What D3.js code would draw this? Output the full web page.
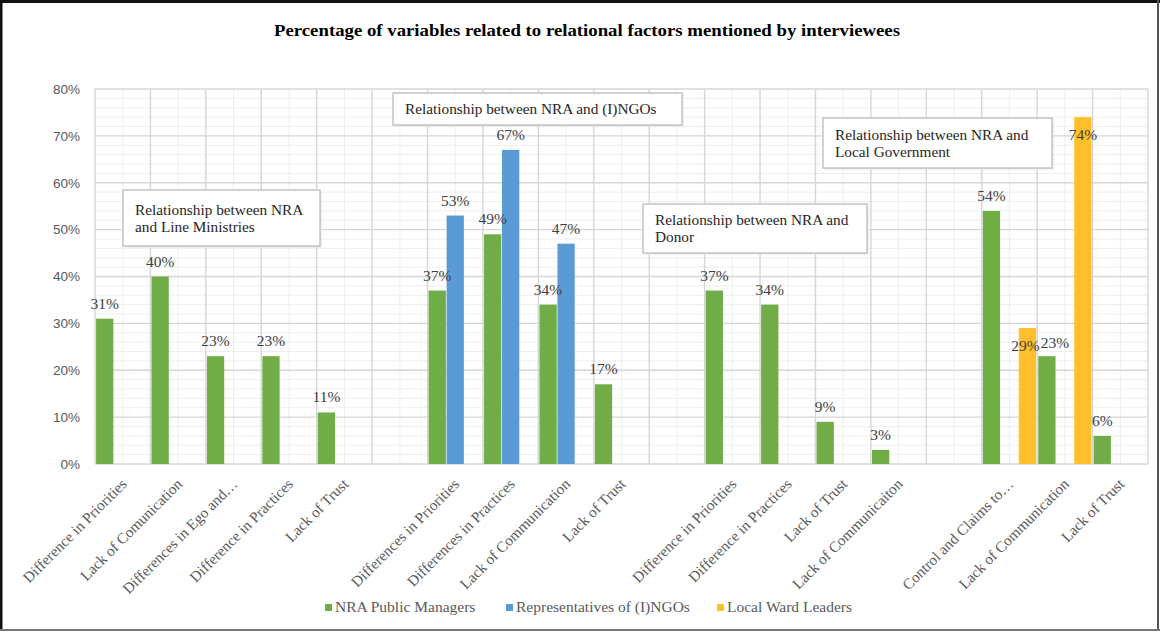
<!DOCTYPE html>
<html>
<head>
<meta charset="utf-8">
<script src="https://cdn.jsdelivr.net/npm/d3@7"></script>
<style>
  body { margin: 0; background: #fff; }
  svg { display: block; }
</style>
</head>
<body>
<script>
// categories along the x axis ("" = empty slot between the groups)
const categories = [
  "Difference in Priorities", "Lack of Comunication", "Differences in Ego and\u2026", "Difference in Practices", "Lack of Trust", "",
  "Differences in Priorities", "Differences in Practices", "Lack of Communication", "Lack of Trust", "",
  "Difference in Priorities", "Difference in Practices", "Lack of Trust", "Lack of Communicaiton", "",
  "Control and Claims to\u2026", "Lack of Communication", "Lack of Trust"
];

const seriesNames = ["NRA Public Managers", "Representatives of (I)NGOs", "Local Ward Leaders"];

const nraManagers = [31, 40, 23, 23, 11, null, 37, 49, 34, 17, null, 37, 34, 9, 3, null, 54, 23, 6];
const ngoReps     = [null, null, null, null, null, null, 53, 67, 47, null, null, null, null, null, null, null, null, null, null];
const wardLeaders = [null, null, null, null, null, null, null, null, null, null, null, null, null, null, null, null, 29, 74, null];

const yTicks = [0, 10, 20, 30, 40, 50, 60, 70, 80];

const groupNotes = [
  ["Relationship between NRA", "and Line Ministries"],
  ["Relationship between NRA and (I)NGOs"],
  ["Relationship between NRA and", "Donor"],
  ["Relationship between NRA and", "Local Government"]
];

const titleText = "Percentage of variables related to relational factors mentioned by interviewees";

// ---- layout ----
const W = 1160, H = 632;
const plot = { left: 95, right: 1148, top: 89, bottom: 464 };
const colors = ["#70AD47", "#5B9BD5", "#FFC02B"];
const serif = "'Liberation Serif', 'Times New Roman', serif";

const svg = d3.select("body").append("svg")
  .attr("width", W)
  .attr("height", H);

svg.append("rect").attr("width", W).attr("height", H).attr("fill", "#fff");

const x = d3.scaleBand()
  .domain(d3.range(categories.length))
  .range([plot.left, plot.right])
  .padding(0);

const xSub = d3.scaleBand()
  .domain([0, 1, 2])
  .range([0, x.bandwidth()])
  .paddingInner(0.04)
  .paddingOuter(0.06);

const y = d3.scaleLinear().domain([0, 80]).range([plot.bottom, plot.top]);

// minor grid
const grid = svg.append("g");
grid.selectAll(".hminor")
  .data(d3.range(0, 81, 2).filter(v => v % 10 !== 0))
  .enter().append("line")
  .attr("x1", plot.left).attr("x2", plot.right)
  .attr("y1", d => y(d)).attr("y2", d => y(d))
  .attr("stroke", "#eeeeee").attr("stroke-width", 1);

grid.selectAll(".vminor")
  .data(d3.range(categories.length))
  .enter().append("line")
  .attr("x1", d => x(d) + x.bandwidth() / 2).attr("x2", d => x(d) + x.bandwidth() / 2)
  .attr("y1", plot.top).attr("y2", plot.bottom)
  .attr("stroke", "#eeeeee").attr("stroke-width", 1);

// major grid
grid.selectAll(".hmajor")
  .data(yTicks)
  .enter().append("line")
  .attr("x1", plot.left).attr("x2", plot.right)
  .attr("y1", d => y(d)).attr("y2", d => y(d))
  .attr("stroke", "#d6d6d6").attr("stroke-width", 1.4);

grid.selectAll(".vmajor")
  .data(d3.range(categories.length + 1))
  .enter().append("line")
  .attr("x1", d => plot.left + d * x.step()).attr("x2", d => plot.left + d * x.step())
  .attr("y1", plot.top).attr("y2", plot.bottom)
  .attr("stroke", "#d6d6d6").attr("stroke-width", 1.4);

// y axis
const yAxis = d3.axisLeft(y).tickValues(yTicks).tickSize(0).tickPadding(15).tickFormat(d => d + "%");
svg.append("g")
  .attr("transform", `translate(${plot.left},0)`)
  .call(yAxis)
  .call(g => g.select(".domain").remove())
  .selectAll("text")
  .attr("fill", "#595959")
  .style("font-family", "'Liberation Sans', Arial, sans-serif")
  .style("font-size", "13.5px");

// x axis labels (rotated)
const xAxis = d3.axisBottom(x).tickSize(0).tickFormat(i => categories[i]);
const xg = svg.append("g")
  .attr("transform", `translate(0,${plot.bottom})`)
  .call(xAxis);
xg.select(".domain").remove();
xg.selectAll("text")
  .attr("fill", "#595959")
  .style("font-family", serif)
  .style("font-size", "15.2px")
  .attr("text-anchor", "end")
  .attr("y", 0).attr("dy", 0)
  .attr("transform", "translate(5,21) rotate(-45)");

// bars
const seriesValues = [nraManagers, ngoReps, wardLeaders];
const points = [];
seriesValues.forEach((vals, s) => {
  vals.forEach((v, i) => {
    if (v != null) points.push({ s, i, v });
  });
});

svg.append("g").selectAll("rect")
  .data(points)
  .enter().append("rect")
  .attr("x", d => x(d.i) + xSub(d.s))
  .attr("width", xSub.bandwidth())
  .attr("y", d => y(d.v))
  .attr("height", d => y(0) - y(d.v))
  .attr("fill", d => colors[d.s]);

// data labels (a few sit off their default spot in the original)
const labelShift = { "2-16": [-2, 33], "2-17": [0, 33], "0-17": [8, 2] };
svg.append("g").selectAll("text")
  .data(points)
  .enter().append("text")
  .attr("x", d => x(d.i) + xSub(d.s) + xSub.bandwidth() / 2 + (labelShift[d.s + "-" + d.i] || [0, 0])[0])
  .attr("y", d => y(d.v) - 10 + (labelShift[d.s + "-" + d.i] || [0, 0])[1])
  .attr("text-anchor", "middle")
  .attr("fill", "#404040")
  .style("font-family", serif)
  .style("font-size", "15.5px")
  .text(d => d.v + "%");

// group notes
const noteBoxes = [
  { x0: 123, y0: 190, w: 197, h: 56 },
  { x0: 393, y0: 93,  w: 289, h: 32 },
  { x0: 643, y0: 204, w: 224, h: 49 },
  { x0: 823, y0: 118, w: 229, h: 50 }
];
noteBoxes.forEach((b, k) => {
  const g = svg.append("g");
  g.append("rect")
    .attr("x", b.x0 + 1.5).attr("y", b.y0 + 1.5)
    .attr("width", b.w).attr("height", b.h)
    .attr("fill", "#e4e4e4");
  g.append("rect")
    .attr("x", b.x0).attr("y", b.y0)
    .attr("width", b.w).attr("height", b.h)
    .attr("fill", "#fff")
    .attr("stroke", "#c4c4c4")
    .attr("stroke-width", 1.5);
  const lines = groupNotes[k];
  const top = b.y0 + b.h / 2 - (lines.length - 1) * 8.5 + 5;
  lines.forEach((t, j) => {
    g.append("text")
      .attr("x", b.x0 + 12)
      .attr("y", top + j * 17)
      .attr("fill", "#262626")
      .style("font-family", serif)
      .style("font-size", "15.3px")
      .text(t);
  });
});

// title
svg.append("text")
  .attr("x", 587).attr("y", 36)
  .attr("text-anchor", "middle")
  .attr("fill", "#000")
  .style("font-family", serif)
  .style("font-weight", "bold")
  .style("font-size", "17px")
  .attr("textLength", 626)
  .attr("lengthAdjust", "spacingAndGlyphs")
  .text(titleText);

// legend
const legendX = [325, 506, 717];
const legend = svg.append("g");
seriesNames.forEach((name, s) => {
  legend.append("rect")
    .attr("x", legendX[s]).attr("y", 604)
    .attr("width", 7).attr("height", 7)
    .attr("fill", colors[s]);
  legend.append("text")
    .attr("x", legendX[s] + 10).attr("y", 612)
    .attr("fill", "#595959")
    .style("font-family", serif)
    .style("font-size", "15.5px")
    .text(name);
});

// outer frame
svg.append("line").attr("x1", 1).attr("x2", 1).attr("y1", 0).attr("y2", 631).attr("stroke", "#111").attr("stroke-width", 3);
svg.append("line").attr("x1", 0).attr("x2", W).attr("y1", 1.5).attr("y2", 1.5).attr("stroke", "#111").attr("stroke-width", 3);
svg.append("line").attr("x1", 1158).attr("x2", 1158).attr("y1", 0).attr("y2", 631).attr("stroke", "#555").attr("stroke-width", 2);
svg.append("line").attr("x1", 0).attr("x2", W).attr("y1", 630).attr("y2", 630).attr("stroke", "#777").attr("stroke-width", 2);
</script>
</body>
</html>
